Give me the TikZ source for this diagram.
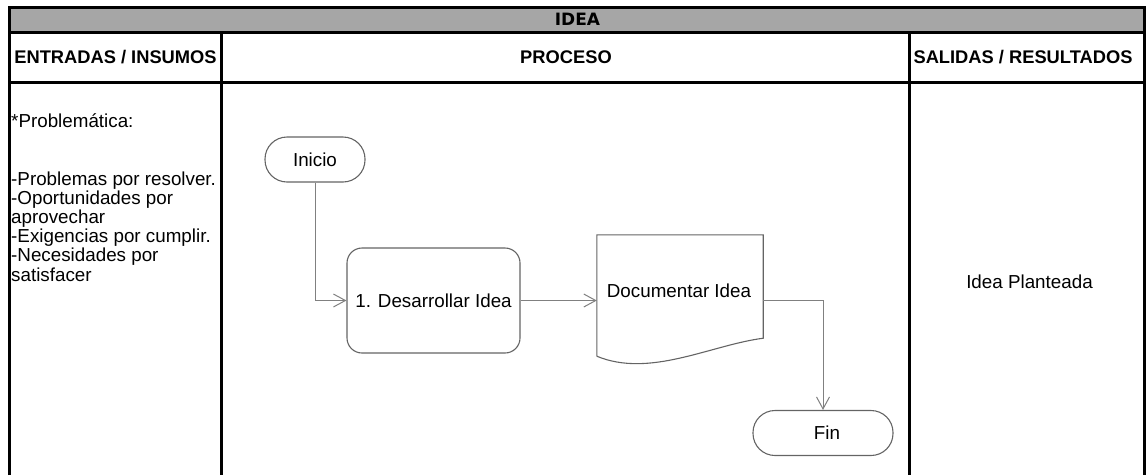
\documentclass[tikz,border=0pt]{standalone}
\usepackage{fontspec}
\setmainfont{Liberation Sans}
\newfontfamily\titlefont{DejaVu Sans}
\usetikzlibrary{arrows.meta,calc}
\definecolor{band}{RGB}{166,166,166}
\definecolor{shapeline}{RGB}{100,100,100}
\definecolor{conn}{RGB}{128,128,128}
\begin{document}
\begin{tikzpicture}[x=1pt,y=-1pt,
  frame/.style={line width=3pt, black},
  txt/.style={font=\fontsize{18.8}{19.2}\selectfont, inner sep=0pt},
  hdr/.style={font=\fontsize{18.3}{20}\selectfont\bfseries, inner sep=0pt},
  term/.style={draw=shapeline, line width=1.1pt, rounded corners=22pt, minimum height=45pt, inner sep=0pt, font=\fontsize{18.8}{19.2}\selectfont},
  proc/.style={draw=shapeline, line width=1.1pt, rounded corners=15pt, minimum width=173pt, minimum height=105pt, inner sep=0pt, font=\fontsize{18.8}{19.2}\selectfont},
  docbox/.style={minimum width=166pt, minimum height=103pt, inner sep=0pt},
  flow/.style={draw=conn, line width=1pt, -{Straight Barb[length=12pt,width=13pt]}}
]
\useasboundingbox (0,0) rectangle (1147,475);
% frame
\fill[band] (9.5,7) rectangle (1144,32);
\draw[frame] (9.5,475) -- (9.5,7) -- (1144,7) -- (1144,475);
\draw[frame] (9.5,32) -- (1144,32);
\draw[frame] (9.5,82) -- (1144,82);
\draw[frame] (221.5,32) -- (221.5,475);
\draw[frame] (909,32) -- (909,475);
% headings
\node[inner sep=0pt, font=\titlefont\fontsize{17}{18}\selectfont\bfseries] (title) at (577.5,19.5) {IDEA};
\node[hdr] (h1) at (115.5,57) {ENTRADAS / INSUMOS};
\node[hdr] (h2) at (566,57) {PROCESO};
\node[hdr] (h3) at (1023,57) {SALIDAS / RESULTADOS};
% inputs
\node[txt, anchor=base west, align=left] (inputs) at (11,281)
  {*Problemática:\\[38.4pt]-Problemas por resolver.\\-Oportunidades por\\aprovechar\\-Exigencias por cumplir.\\-Necesidades por\\satisfacer};
% outputs
\node[txt] (out) at (1029.5,282) {Idea Planteada};
% flow
\node[term, minimum width=100pt] (ini) at (315,159.5) {Inicio};
\node[proc] (des) at (433.5,300.5) {1. Desarrollar Idea};
\node[docbox] (doc) at (680,286.5) {};
\draw[shapeline, line width=1.1pt] ($(doc.south west)+(0,18)$) -- (doc.north west) -- (doc.north east) -- (doc.south east)
  .. controls +(-53,7) and +(53,22) .. ($(doc.south west)+(0,18)$);
\node[txt] (doctext) at (679,291) {Documentar Idea};
\node[term, minimum width=140pt] (fin) at (823,433) {\hspace{8pt}Fin};
\draw[flow] (ini.south) |- (des.west);
\draw[flow] (des.east) -- (doc.west |- des.east);
\draw[flow] (doc.east |- des.east) -| (fin.north);
\end{tikzpicture}
\end{document}
